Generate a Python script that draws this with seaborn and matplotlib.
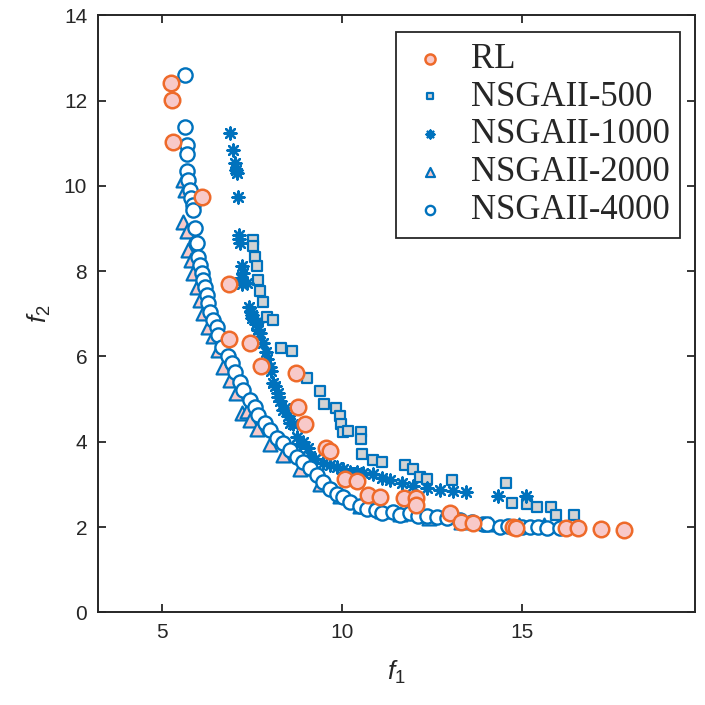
import numpy as np
import pandas as pd
import matplotlib as mpl
mpl.use('Agg')
import matplotlib.pyplot as plt
import seaborn as sns

# values
rl_f1 = [5.23, 5.26, 5.30, 6.09, 6.86, 6.86, 7.43, 7.73, 8.70, 8.78, 8.96, 9.56, 9.66,
         10.07, 10.41, 10.72, 11.06, 11.71, 12.06, 12.06, 12.99, 13.31, 13.64, 14.75,
         14.84, 16.21, 16.55, 17.20, 17.83]
rl_f2 = [12.41, 12.02, 11.02, 9.73, 7.69, 6.40, 6.32, 5.78, 5.61, 4.81, 4.42, 3.85, 3.79,
         3.13, 3.07, 2.75, 2.70, 2.67, 2.67, 2.52, 2.32, 2.11, 2.09, 2.00,
         1.98, 1.97, 1.97, 1.95, 1.93]

n500_f1 = [7.51, 7.53, 7.57, 7.62, 7.66, 7.72, 7.80, 7.90, 8.08, 8.31, 8.61, 9.01, 9.37,
           9.49, 9.82, 9.94, 9.96, 10.01, 10.16, 10.51, 10.52, 10.55, 10.84, 11.09, 11.74,
           11.97, 12.16, 12.35, 13.04, 14.56, 14.71, 15.12, 15.41, 15.80, 15.93, 16.44]
n500_f2 = [8.72, 8.58, 8.33, 8.12, 7.80, 7.54, 7.28, 6.93, 6.85, 6.20, 6.12, 5.50, 5.20,
           4.88, 4.78, 4.60, 4.41, 4.22, 4.25, 4.22, 4.07, 3.71, 3.58, 3.52, 3.46,
           3.35, 3.17, 3.13, 3.10, 3.04, 2.56, 2.53, 2.47, 2.46, 2.28, 2.28]

n1000_f1 = [6.88, 6.97, 7.02, 7.05, 7.08, 7.11, 7.12, 7.14, 7.16, 7.18, 7.20, 7.22, 7.25,
            7.34, 7.41, 7.45, 7.48, 7.50, 7.60, 7.62, 7.65, 7.71, 7.80, 7.88, 7.92, 7.99,
            8.02, 8.08, 8.12, 8.20, 8.22, 8.28, 8.36, 8.40, 8.50, 8.55, 8.62, 8.73, 8.82,
            8.90, 9.05, 9.10, 9.25, 9.46, 9.65, 9.84, 10.02, 10.21, 10.40, 10.57, 10.86,
            11.10, 11.32, 11.65, 11.97, 12.34, 12.71, 13.08, 13.45, 14.33, 15.10]
n1000_f2 = [11.25, 10.84, 10.53, 10.38, 10.30, 9.75, 8.75, 8.85, 8.66, 7.85, 8.12, 7.70, 7.95,
            7.72, 7.17, 7.05, 6.97, 6.90, 6.75, 6.81, 6.62, 6.54, 6.31, 6.11, 5.95, 5.76,
            5.65, 5.37, 5.30, 5.15, 5.06, 4.95, 4.75, 4.80, 4.60, 4.43, 4.42, 4.12, 3.95,
            4.00, 3.85, 3.67, 3.60, 3.50, 3.45, 3.41, 3.36, 3.29, 3.28, 3.26, 3.24,
            3.16, 3.10, 3.03, 2.97, 2.91, 2.87, 2.85, 2.83, 2.73, 2.73]

n2000_f1 = [5.58, 5.63, 5.58, 5.68, 5.72, 5.81, 5.86, 5.95, 6.05, 6.14, 6.28, 6.41, 6.55,
            6.69, 6.88, 7.06, 7.20, 7.34, 7.43, 7.62, 7.99, 8.36, 8.82, 9.38, 9.93, 10.50,
            11.10, 11.60, 12.40, 13.30, 14.10, 14.90, 15.60]
n2000_f2 = [10.14, 9.91, 9.16, 8.93, 8.50, 8.26, 7.95, 7.64, 7.32, 7.01, 6.70, 6.47, 6.15,
            5.76, 5.45, 5.14, 4.67, 4.72, 4.51, 4.30, 3.95, 3.70, 3.35, 3.00, 2.72, 2.50,
            2.38, 2.30, 2.20, 2.12, 2.07, 2.05, 2.05]

n4000_f1 = [5.63, 5.63, 5.68, 5.68, 5.68, 5.72, 5.77, 5.81, 5.84, 5.86, 5.91, 5.93, 5.95,
            6.00, 6.04, 6.09, 6.14, 6.18, 6.23, 6.28, 6.32, 6.41, 6.51, 6.55, 6.65, 6.83,
            6.93, 7.02, 7.16, 7.25, 7.43, 7.57, 7.66, 7.85, 7.99, 8.18, 8.36, 8.55, 8.73,
            8.91, 9.10, 9.29, 9.47, 9.66, 9.84, 10.03, 10.21, 10.49, 10.68, 10.95, 11.10,
            11.41, 11.60, 11.88, 12.10, 12.34, 12.62, 12.90, 13.27, 13.60, 13.90, 14.01,
            14.38, 14.60, 14.79, 15.00, 15.21, 15.45, 15.68, 16.05]
n4000_f2 = [12.60, 11.39, 10.96, 10.75, 10.34, 10.14, 9.91, 9.71, 9.56, 9.44, 9.01, 8.66, 8.66,
            8.34, 8.15, 7.95, 7.80, 7.64, 7.44, 7.25, 7.05, 6.86, 6.70, 6.50, 6.23, 6.00,
            5.84, 5.64, 5.41, 5.21, 4.98, 4.82, 4.63, 4.43, 4.27, 4.08, 3.97, 3.81, 3.65,
            3.53, 3.38, 3.22, 3.06, 2.90, 2.78, 2.70, 2.58, 2.50, 2.43, 2.40, 2.33,
            2.36, 2.28, 2.32, 2.25, 2.26, 2.24, 2.20, 2.17, 2.12, 2.08, 2.07,
            2.01, 2.02, 2.00, 2.00, 1.99, 1.99, 1.97, 1.97]

blue = '#0072BD'
orange = '#EE6A2A'
pink = '#F8C9C9'
gray = '#D3D3D3'

sns.set_theme(style="ticks")
plt.rcParams['font.family'] = ['Liberation Sans', 'DejaVu Sans']
plt.rcParams['mathtext.fontset'] = 'custom'
plt.rcParams['mathtext.rm'] = 'Liberation Sans'
plt.rcParams['mathtext.it'] = 'Liberation Sans:italic'

fig, ax = plt.subplots(figsize=(7.05, 7.05), dpi=100)
fig.subplots_adjust(left=0.1394, right=0.9858, bottom=0.1315, top=0.9783)

sns.scatterplot(x=n500_f1, y=n500_f2, ax=ax, marker='s', s=55, color=gray,
                edgecolor=blue, linewidth=1.6, label='NSGAII-500', zorder=3)
sns.scatterplot(x=n1000_f1, y=n1000_f2, ax=ax, marker=(8, 2, 0), s=75, color=blue,
                linewidth=1.7, label='NSGAII-1000', zorder=3)
sns.scatterplot(x=n2000_f1, y=n2000_f2, ax=ax, marker='^', s=100, color=pink,
                edgecolor=blue, linewidth=1.6, label='NSGAII-2000', zorder=3)
sns.scatterplot(x=n4000_f1, y=n4000_f2, ax=ax, marker='o', s=105, color='white',
                edgecolor=blue, linewidth=1.7, label='NSGAII-4000', zorder=4)
sns.scatterplot(x=rl_f1, y=rl_f2, ax=ax, marker='o', s=125, color=pink,
                edgecolor=orange, linewidth=1.8, label='RL', zorder=5)

ax.set_xlim(3.22, 19.8)
ax.set_ylim(0, 14)
ax.set_xticks([5, 10, 15])
ax.set_yticks(np.arange(0, 15, 2))
ax.tick_params(direction='in', length=6, width=1.3, color='#262626', labelsize=15,
               labelcolor='#262626', top=True, right=True, pad=8)
for sp in ax.spines.values():
    sp.set_visible(True)
    sp.set_linewidth(1.4)
    sp.set_color('#262626')

ax.set_xlabel(r'$f_1$', fontsize=19, color='#262626', labelpad=12)
ax.set_ylabel(r'$f_2$', fontsize=19, color='#262626', labelpad=8)

# reorder legend: RL first
h, l = ax.get_legend_handles_labels()
order = [l.index(k) for k in ['RL', 'NSGAII-500', 'NSGAII-1000', 'NSGAII-2000', 'NSGAII-4000']]
leg = ax.legend([h[i] for i in order], [l[i] for i in order], loc='upper right',
                bbox_to_anchor=(0.975, 0.9715), borderaxespad=0, fancybox=False,
                framealpha=1, edgecolor='#262626', markerscale=0.65, handletextpad=0.5,
                labelspacing=0.14, borderpad=0.3, handlelength=1.35,
                prop={'family': 'Liberation Serif', 'size': 25})
leg.get_frame().set_linewidth(1.3)

fig.savefig('out.png', dpi=100)
